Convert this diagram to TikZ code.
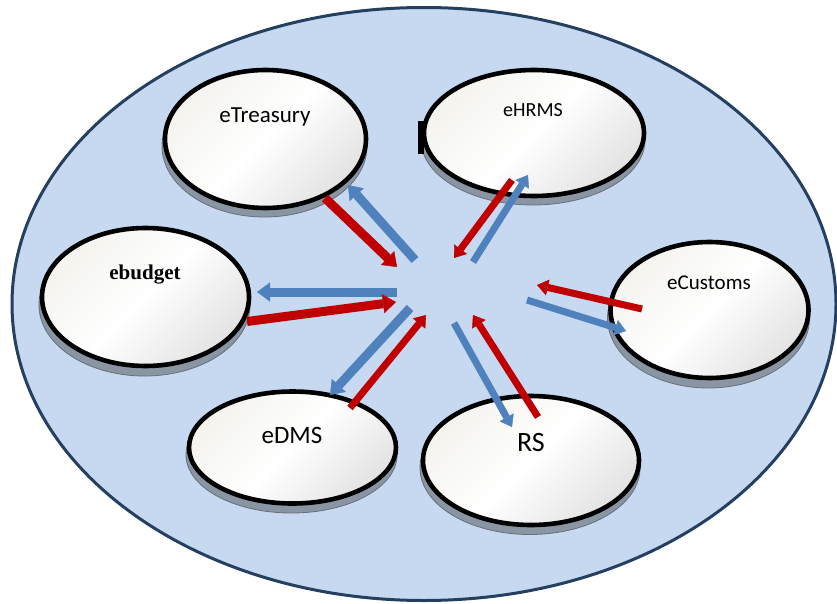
\documentclass[tikz,border=0pt]{standalone}
\usepackage{fontspec}
\setmainfont{Carlito}
\newfontfamily\budgetfont{Liberation Serif}
\usetikzlibrary{arrows.meta,shapes.geometric}
\definecolor{bigfill}{HTML}{C6D9F1}
\definecolor{bigline}{HTML}{243F60}
\definecolor{redarr}{HTML}{C00000}
\definecolor{bluearr}{HTML}{4F81BD}
\definecolor{shadowgray}{HTML}{8A95A3}
\definecolor{diskleft}{HTML}{F4F3EE}
\definecolor{diskright}{HTML}{E3E3E3}
\begin{document}
\begin{tikzpicture}[x=1pt,y=-1pt,
  outer/.style={ellipse, inner sep=0pt, fill=bigfill, draw=bigline, line width=3pt},
  disk/.style={ellipse, draw=black, line width=4.6pt, inner sep=0pt,
    top color=diskleft, bottom color=diskright, middle color=white, shading angle=45},
  diskshadow/.style={ellipse, inner sep=0pt, fill=shadowgray, draw=shadowgray!75!black, line width=0.8pt},
  lbl/.style={inner sep=0pt, text=black},
  thickred/.style={draw=redarr, line width=9pt, -{Triangle[length=13pt,width=19pt,line width=0.4pt]}},
  thickblue/.style={draw=bluearr, line width=9pt, -{Triangle[length=13pt,width=19pt,line width=0.4pt]}},
  thinred/.style={draw=redarr, line width=7pt, -{Triangle[length=11pt,width=16pt,line width=0.4pt]}},
  thinblue/.style={draw=bluearr, line width=7pt, -{Triangle[length=11pt,width=16pt,line width=0.4pt]}}
]
\useasboundingbox (0,0) rectangle (837,604);
\node (hub) [outer, minimum width=824pt, minimum height=593pt] at (424,304) {};

% shadows
\node (sTr) [diskshadow, minimum width=205pt, minimum height=142pt] at (264.5,146) {};
\node (sHr) [diskshadow, minimum width=224pt, minimum height=130pt] at (533,140) {};
\node (sBu) [diskshadow, minimum width=211pt, minimum height=142pt] at (144.5,305) {};
\node (sCu) [diskshadow, minimum width=202pt, minimum height=140pt] at (708.5,318) {};
\node (sDm) [diskshadow, minimum width=211pt, minimum height=116pt] at (291.5,455) {};
\node (sRs) [diskshadow, minimum width=220pt, minimum height=133pt] at (530,468) {};

\node (mark) [fill=black, inner sep=0pt, minimum width=6pt, minimum height=33pt] at (421,137.5) {};

% disks
\node (eTr) [disk, minimum width=201pt, minimum height=138pt] at (265.5,139) {};
\node (eHr) [disk, minimum width=220pt, minimum height=126pt] at (534,133) {};
\node (eBu) [disk, minimum width=207pt, minimum height=138pt] at (145.5,297) {};
\node (eCu) [disk, minimum width=198pt, minimum height=136pt] at (709.5,310) {};
\node (eDm) [disk, minimum width=207pt, minimum height=112pt] at (292.5,447.5) {};
\node (eRs) [disk, minimum width=216pt, minimum height=129pt] at (531,460.5) {};

% labels
\node (lTr) [lbl, font=\fontsize{23}{23}\selectfont] at (265,117) {eTreasury};
\node (lHr) [lbl, font=\fontsize{20}{20}\selectfont] at (533,110.5) {eHRMS};
\node (lBu) [lbl, font=\budgetfont\bfseries\fontsize{21}{21}\selectfont] at (145,275) {ebudget};
\node (lCu) [lbl, font=\fontsize{21}{21}\selectfont] at (709,283) {eCustoms};
\node (lDm) [lbl, font=\fontsize{25}{25}\selectfont] at (292,435) {eDMS};
\node (lRs) [lbl, font=\fontsize{28}{28}\selectfont] at (531,443) {RS};

% arrow end points
\coordinate (tTr1) at (325,198); \coordinate (hTr1) at (397,267);
\coordinate (tTr2) at (415,260); \coordinate (hTr2) at (348,185);
\coordinate (tHr1) at (512,180); \coordinate (hHr1) at (454,258);
\coordinate (tHr2) at (473,262); \coordinate (hHr2) at (528,175);
\coordinate (tBu1) at (397,292); \coordinate (hBu1) at (257,292);
\coordinate (tBu2) at (247,321.5); \coordinate (hBu2) at (396,302);
\coordinate (tDm1) at (410,308); \coordinate (hDm1) at (330,395);
\coordinate (tDm2) at (350,408); \coordinate (hDm2) at (426,315);
\coordinate (tRs1) at (454,323); \coordinate (hRs1) at (512,427);
\coordinate (tRs2) at (538,417); \coordinate (hRs2) at (473,315);
\coordinate (tCu1) at (642,309); \coordinate (hCu1) at (537,285);
\coordinate (tCu2) at (527,300); \coordinate (hCu2) at (626,331);

% arrows
\draw[thickred] (tTr1) -- (hTr1);
\draw[thickblue] (tTr2) -- (hTr2);
\draw[thinred] (tHr1) -- (hHr1);
\draw[thinblue] (tHr2) -- (hHr2);
\draw[thickblue] (tBu1) -- (hBu1);
\draw[thickred] (tBu2) -- (hBu2);
\draw[thickblue] (tDm1) -- (hDm1);
\draw[thinred] (tDm2) -- (hDm2);
\draw[thinblue] (tRs1) -- (hRs1);
\draw[thinred] (tRs2) -- (hRs2);
\draw[thinred] (tCu1) -- (hCu1);
\draw[thinblue] (tCu2) -- (hCu2);
\end{tikzpicture}
\end{document}
